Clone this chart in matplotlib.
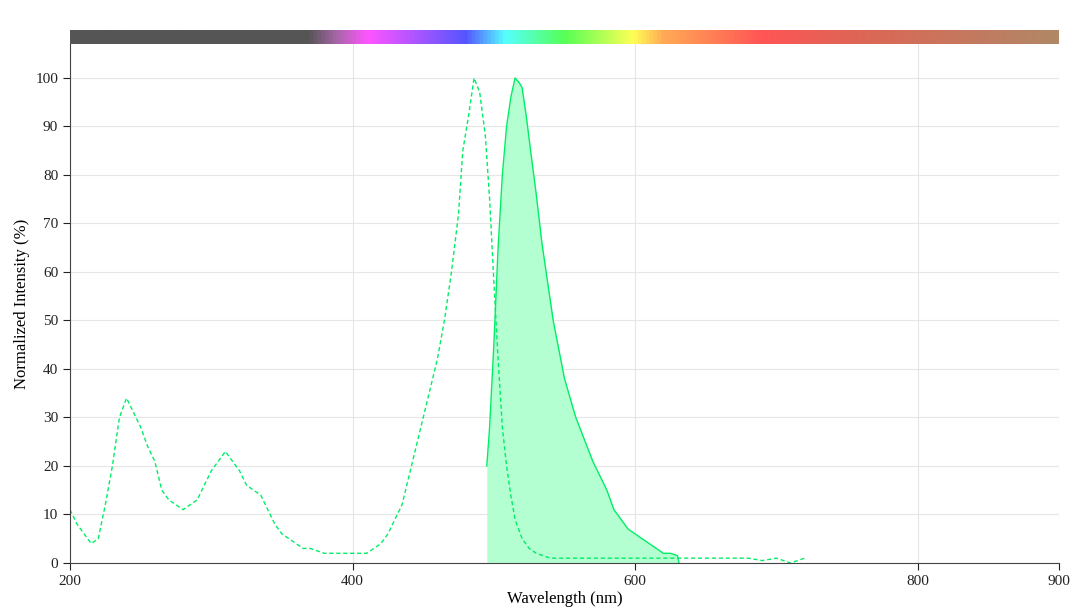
import numpy as np
import matplotlib
matplotlib.use("Agg")
import matplotlib.pyplot as plt
from matplotlib.colors import LinearSegmentedColormap

plt.rcParams["font.family"] = ["Liberation Serif", "DejaVu Serif"]

# ── data ─────────────────────────────────────────────────────────────────────
ex_wl = [200, 205, 210, 215, 220, 225, 230, 235, 240, 245, 250, 255, 260, 265, 270,
         275, 280, 285, 290, 295, 300, 305, 310, 315, 320, 325, 330, 335, 340, 345,
         350, 355, 360, 365, 370, 380, 400, 410, 415, 420, 425, 430, 435, 440, 445,
         450, 455, 460, 465, 470, 475, 478, 482, 486, 490, 494, 497, 500, 503, 506,
         509, 512, 515, 520, 525, 530, 540, 560, 600, 650, 680, 690, 700, 710, 720]
ex_val = [11, 8, 6, 4, 5, 12, 20, 30, 34, 31, 28, 24, 21, 15, 13,
          12, 11, 12, 13, 16, 19, 21, 23, 21, 19, 16, 15, 14, 11, 8,
          6, 5, 4, 3, 3, 2, 2, 2, 3, 4, 6, 9, 12, 18, 24,
          30, 36, 42, 50, 60, 72, 85, 92, 100, 97, 88, 75, 58, 42, 28,
          20, 14, 9, 5, 3, 2, 1, 1, 1, 1, 1, 0.5, 1, 0, 1]

em_wl = [495, 497, 500, 503, 506, 509, 512, 515, 518, 520, 523, 526, 530, 534, 538,
         542, 546, 550, 554, 558, 562, 566, 570, 575, 580, 585, 590, 595, 600, 605,
         610, 615, 620, 625, 630, 631]
em_val = [20, 28, 45, 65, 80, 90, 96, 100, 99, 98, 92, 85, 76, 66, 58,
          50, 44, 38, 34, 30, 27, 24, 21, 18, 15, 11, 9, 7, 6, 5,
          4, 3, 2, 2, 1.5, 0]

spec_pos = [0.0, 0.24, 0.27, 0.30, 0.35, 0.40, 0.44, 0.50, 0.57, 0.60, 0.64, 0.70, 0.80, 1.0]
spec_col = ["#555555", "#555555", "#aa66aa", "#ff55ff", "#aa55ff", "#5555ff", "#55ffff",
            "#55ff55", "#ffff55", "#ffaa55", "#ff8855", "#ff5555", "#dd6655", "#b08866"]

LINE = "#00ee66"
FILL = "#b3ffd1"

fig = plt.figure(figsize=(10.8, 6.14), dpi=100)
ax = fig.add_axes([70 / 1080, 1 - 563 / 614, 989 / 1080, 519 / 614])

ax.fill_between(em_wl, em_val, color=FILL, lw=0)
ax.plot(em_wl, em_val, color=LINE, lw=1)
ax.plot(ex_wl, ex_val, color=LINE, lw=1, ls=(0, (3, 2)))

ax.set_xlim(200, 900)
ax.set_ylim(0, 107)
ax.set_xticks([200, 400, 600, 800, 900])
ax.set_yticks(range(0, 101, 10))
ax.grid(color="#e6e6e6", lw=0.8)
ax.set_axisbelow(True)
for s in ("top", "right"):
    ax.spines[s].set_visible(False)
for s in ("left", "bottom"):
    ax.spines[s].set_color("#444444")
ax.tick_params(labelsize=11, colors="#222222", length=5)
ax.set_xlabel("Wavelength (nm)", fontsize=12, labelpad=2)
ax.set_ylabel("Normalized Intensity (%)", fontsize=12)

# spectrum bar
cax = fig.add_axes([70 / 1080, 1 - 44 / 614, 989 / 1080, 14 / 614])
cmap = LinearSegmentedColormap.from_list("spec", list(zip(spec_pos, spec_col)))
cax.imshow(np.linspace(0, 1, 512)[None, :], aspect="auto", cmap=cmap)
cax.axis("off")

fig.savefig("out.png", dpi=100)
